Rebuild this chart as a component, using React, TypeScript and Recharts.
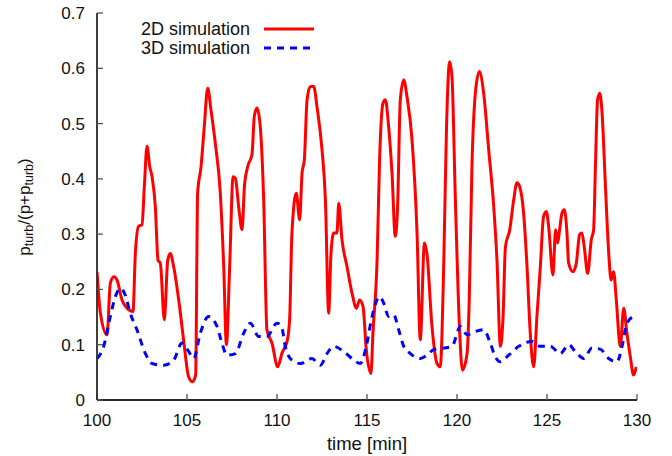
import React from "react";
import { LineChart, Line, XAxis, YAxis, Label } from "recharts";

const time2D = [100, 100.19, 100.56, 100.74, 100.93, 101.11, 101.39, 101.67, 102.0, 102.13, 102.31, 102.5, 102.63, 102.78, 102.93, 103.06, 103.24, 103.39, 103.52, 103.74, 103.93, 104.07, 104.26, 104.54, 104.81, 105.09, 105.3, 105.48, 105.59, 105.78, 105.96, 106.15, 106.33, 106.57, 106.85, 107.04, 107.19, 107.37, 107.56, 107.69, 107.87, 108.06, 108.19, 108.37, 108.61, 108.74, 108.89, 109.07, 109.26, 109.44, 109.72, 110.04, 110.28, 110.56, 110.7, 110.83, 111.07, 111.26, 111.39, 111.52, 111.67, 111.85, 112.04, 112.22, 112.5, 112.69, 112.87, 113.0, 113.15, 113.33, 113.43, 113.61, 113.89, 114.17, 114.41, 114.59, 114.78, 114.96, 115.22, 115.33, 115.56, 115.7, 115.89, 116.02, 116.2, 116.39, 116.57, 116.7, 116.85, 117.04, 117.22, 117.5, 117.78, 117.96, 118.19, 118.33, 118.61, 118.89, 119.07, 119.26, 119.41, 119.59, 119.72, 119.91, 120.15, 120.3, 120.56, 120.68, 120.83, 121.02, 121.24, 121.48, 121.76, 122.04, 122.22, 122.41, 122.56, 122.69, 122.93, 123.15, 123.33, 123.48, 123.7, 123.89, 124.07, 124.26, 124.44, 124.63, 124.81, 124.96, 125.09, 125.33, 125.48, 125.59, 125.7, 125.83, 125.96, 126.11, 126.2, 126.44, 126.63, 126.81, 126.94, 127.07, 127.26, 127.46, 127.59, 127.69, 127.81, 127.93, 128.06, 128.24, 128.43, 128.56, 128.7, 128.85, 129.07, 129.26, 129.44, 129.63, 129.81, 129.96];
const ratio2D = [0.232, 0.157, 0.118, 0.211, 0.223, 0.217, 0.181, 0.166, 0.16, 0.265, 0.314, 0.317, 0.386, 0.459, 0.422, 0.404, 0.35, 0.253, 0.247, 0.145, 0.253, 0.265, 0.241, 0.181, 0.109, 0.042, 0.033, 0.045, 0.374, 0.422, 0.495, 0.564, 0.525, 0.465, 0.374, 0.241, 0.1, 0.241, 0.404, 0.401, 0.35, 0.308, 0.386, 0.422, 0.444, 0.513, 0.528, 0.495, 0.362, 0.127, 0.103, 0.06, 0.085, 0.106, 0.145, 0.302, 0.374, 0.326, 0.41, 0.435, 0.543, 0.567, 0.567, 0.531, 0.453, 0.362, 0.157, 0.265, 0.302, 0.302, 0.356, 0.29, 0.241, 0.193, 0.166, 0.181, 0.169, 0.091, 0.048, 0.121, 0.253, 0.435, 0.537, 0.543, 0.495, 0.41, 0.296, 0.35, 0.543, 0.579, 0.549, 0.471, 0.302, 0.109, 0.284, 0.265, 0.133, 0.066, 0.06, 0.241, 0.483, 0.612, 0.585, 0.362, 0.121, 0.054, 0.084, 0.181, 0.422, 0.555, 0.594, 0.555, 0.453, 0.35, 0.253, 0.097, 0.151, 0.277, 0.308, 0.362, 0.393, 0.386, 0.338, 0.241, 0.121, 0.06, 0.151, 0.241, 0.332, 0.341, 0.314, 0.226, 0.308, 0.284, 0.308, 0.338, 0.344, 0.302, 0.248, 0.232, 0.248, 0.299, 0.302, 0.277, 0.229, 0.29, 0.308, 0.422, 0.543, 0.555, 0.519, 0.392, 0.265, 0.217, 0.232, 0.181, 0.097, 0.166, 0.121, 0.078, 0.045, 0.06];

const time3D = [100, 100.37, 100.74, 101.02, 101.3, 101.57, 101.85, 102.22, 102.69, 103.06, 103.7, 104.26, 104.72, 105.09, 105.37, 105.74, 106.2, 106.67, 106.94, 107.22, 107.69, 108.15, 108.52, 108.98, 109.44, 110.0, 110.25, 110.46, 110.83, 111.3, 111.94, 112.41, 112.78, 113.15, 113.7, 114.17, 114.63, 114.96, 115.28, 115.7, 115.93, 116.2, 116.48, 116.76, 117.04, 117.41, 117.96, 118.33, 118.7, 119.26, 119.72, 120.19, 120.56, 121.02, 121.48, 121.85, 122.13, 122.41, 122.87, 123.43, 124.17, 124.63, 125.19, 125.74, 126.2, 126.57, 127.04, 127.5, 127.96, 128.43, 128.89, 129.17, 129.44, 129.81];
const ratio3D = [0.075, 0.097, 0.151, 0.187, 0.202, 0.19, 0.157, 0.127, 0.084, 0.066, 0.063, 0.072, 0.103, 0.088, 0.075, 0.121, 0.151, 0.133, 0.103, 0.081, 0.084, 0.121, 0.139, 0.115, 0.115, 0.139, 0.133, 0.097, 0.072, 0.066, 0.075, 0.063, 0.084, 0.097, 0.088, 0.075, 0.066, 0.097, 0.151, 0.187, 0.175, 0.151, 0.154, 0.127, 0.097, 0.084, 0.075, 0.081, 0.091, 0.094, 0.097, 0.133, 0.118, 0.124, 0.127, 0.103, 0.078, 0.069, 0.081, 0.097, 0.106, 0.097, 0.097, 0.084, 0.1, 0.088, 0.075, 0.094, 0.092, 0.075, 0.069, 0.097, 0.139, 0.151];

const xTicks = [100, 105, 110, 115, 120, 125, 130];
const yTicks = [0, 0.1, 0.2, 0.3, 0.4, 0.5, 0.6, 0.7];
const seriesNames = ["2D simulation", "3D simulation"];

const data2D = time2D.map((t, i) => ({ t, v: ratio2D[i] }));
const data3D = time3D.map((t, i) => ({ t, v: ratio3D[i] }));

const FONT = "'Liberation Sans', Arial, Helvetica, sans-serif";
const AXIS_COLOR = "#2a2a2a";
const TICK_COLOR = "#555555";

const YLabel = () => {
  const cx = 24;
  const cy = 207;
  return (
    <text
      x={cx}
      y={cy}
      transform={`rotate(-90, ${cx}, ${cy})`}
      textAnchor="middle"
      dominantBaseline="central"
      fontSize={17}
      fontFamily={FONT}
      fill="#111"
    >
      p<tspan fontSize={12.5} dy={5}>turb</tspan>
      <tspan dy={-5}>/(p+p</tspan>
      <tspan fontSize={12.5} dy={5}>turb</tspan>
      <tspan dy={-5}>)</tspan>
    </text>
  );
};

const tickText = { fontSize: 17, fontFamily: FONT, fill: "#111" };

export default function App() {
  return (
    <div style={{ position: "absolute", left: 0, top: 0, width: 672, height: 456 }}>
      <LineChart
        width={672}
        height={456}
        margin={{ top: 13, right: 35, bottom: 26, left: 37 }}
      >
        <XAxis
          dataKey="t"
          type="number"
          domain={[100, 130]}
          ticks={xTicks}
          allowDataOverflow
          height={30}
          tickSize={-6}
          tickLine={{ stroke: TICK_COLOR, strokeWidth: 1.3 }}
          tickMargin={20}
          tick={tickText}
          stroke={AXIS_COLOR}
          strokeWidth={1.8}
        >
          <Label
            value="time [min]"
            position="bottom"
            offset={7}
            style={{ fontSize: 18.5, fontFamily: FONT, fill: "#111" }}
          />
        </XAxis>
        <YAxis
          type="number"
          domain={[0, 0.7]}
          ticks={yTicks}
          width={60}
          tickSize={-6}
          tickLine={{ stroke: TICK_COLOR, strokeWidth: 1.3 }}
          tickMargin={18}
          tick={tickText}
          tickFormatter={(v: number) => String(Math.round(v * 10) / 10)}
          stroke={AXIS_COLOR}
          strokeWidth={1.8}
          label={<YLabel />}
        />
        <Line
          data={data2D}
          dataKey="v"
          type="monotone"
          stroke="#ff0000"
          strokeWidth={3}
          dot={false}
          isAnimationActive={false}
          name={seriesNames[0]}
        />
        <Line
          data={data3D}
          dataKey="v"
          type="monotone"
          stroke="#0000ff"
          strokeWidth={3}
          strokeDasharray="7 6"
          dot={false}
          isAnimationActive={false}
          name={seriesNames[1]}
        />
      </LineChart>
      <div
        style={{
          position: "absolute",
          left: 80,
          top: 20,
          fontFamily: FONT,
          fontSize: 18,
          color: "#111",
          lineHeight: "18px",
        }}
      >
        {seriesNames.map((name, i) => (
          <div key={name} style={{ display: "flex", alignItems: "center", justifyContent: "flex-end", width: 234, height: 18.5 }}>
            <span style={{ marginRight: 14 }}>{name}</span>
            <svg width={50} height={8}>
              <line
                x1={0}
                y1={4}
                x2={50}
                y2={4}
                stroke={i === 0 ? "#ff0000" : "#0000ff"}
                strokeWidth={3}
                strokeDasharray={i === 0 ? undefined : "7 6"}
              />
            </svg>
          </div>
        ))}
      </div>
    </div>
  );
}
